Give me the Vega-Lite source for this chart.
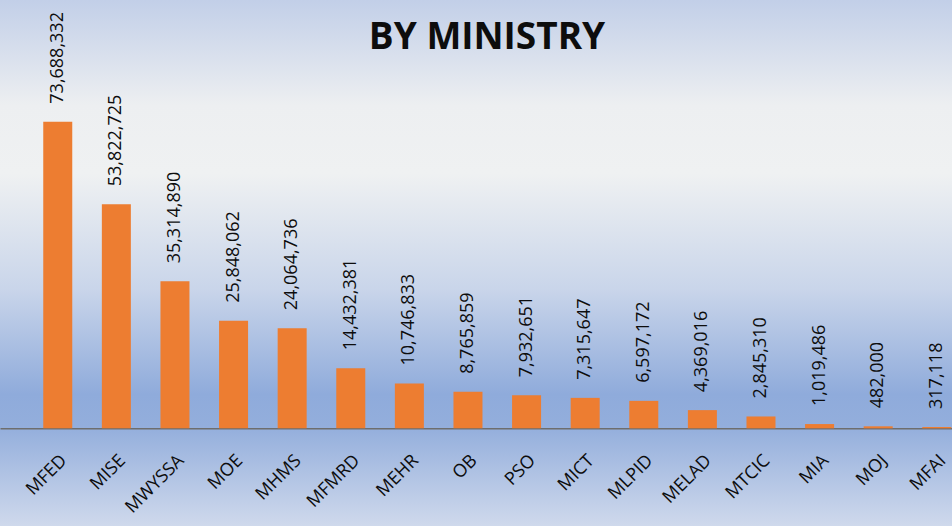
{
  "$schema": "https://vega.github.io/schema/vega-lite/v6.json",
  "autosize": "none",
  "padding": 0,
  "width": 952,
  "height": 526,
  "background": "#c9d4ea",
  "title": {
    "text": "BY MINISTRY",
    "font": "Open Sans",
    "fontSize": 37,
    "fontWeight": "bold",
    "color": "#0d0d0d",
    "anchor": "middle",
    "orient": "top",
    "baseline": "alphabetic",
    "offset": -86,
    "dx": 11
  },
  "config": {
    "view": {
      "stroke": null,
      "fill": {
        "gradient": "linear",
        "x1": 0, "y1": 0, "x2": 0, "y2": 1,
        "stops": [
          {"offset": 0, "color": "#c2cfe8"},
          {"offset": 0.2, "color": "#edeff1"},
          {"offset": 0.33, "color": "#eff1f2"},
          {"offset": 0.55, "color": "#c9d5ea"},
          {"offset": 0.75, "color": "#8fabdb"},
          {"offset": 0.81, "color": "#93aedc"},
          {"offset": 1, "color": "#cfd9ec"}
        ]
      }
    },
    "font": "Open Sans"
  },
  "data": {
    "values": [
      {"ministry": "MFED", "amount": 73688332},
      {"ministry": "MISE", "amount": 53822725},
      {"ministry": "MWYSSA", "amount": 35314890},
      {"ministry": "MOE", "amount": 25848062},
      {"ministry": "MHMS", "amount": 24064736},
      {"ministry": "MFMRD", "amount": 14432381},
      {"ministry": "MEHR", "amount": 10746833},
      {"ministry": "OB", "amount": 8765859},
      {"ministry": "PSO", "amount": 7932651},
      {"ministry": "MICT", "amount": 7315647},
      {"ministry": "MLPID", "amount": 6597172},
      {"ministry": "MELAD", "amount": 4369016},
      {"ministry": "MTCIC", "amount": 2845310},
      {"ministry": "MIA", "amount": 1019486},
      {"ministry": "MOJ", "amount": 482000},
      {"ministry": "MFAI", "amount": 317118}
    ]
  },
  "encoding": {
    "x": {
      "field": "ministry",
      "type": "nominal",
      "sort": null,
      "scale": {"paddingInner": 0.505, "paddingOuter": 0.375, "align": 0.984},
      "axis": {
        "title": null,
        "offset": -97.7,
        "labelAngle": -45,
        "labelFontSize": 18,
        "labelColor": "#0d0d0d",
        "labelPadding": 23,
        "ticks": false,
        "domainColor": "#6e6e6e",
        "domainWidth": 1.5
      }
    },
    "y": {
      "field": "amount",
      "type": "quantitative",
      "scale": {"domain": [-23480000, 102940000], "zero": false, "nice": false},
      "axis": null
    }
  },
  "layer": [
    {
      "mark": {"type": "bar", "color": "#ed7d31"},
      "encoding": {"y2": {"datum": 0}}
    },
    {
      "mark": {
        "type": "text",
        "angle": 270,
        "align": "left",
        "baseline": "middle",
        "dx": 18,
        "fontSize": 18,
        "color": "#0d0d0d"
      },
      "encoding": {
        "text": {"field": "amount", "type": "quantitative", "format": ","}
      }
    }
  ]
}
